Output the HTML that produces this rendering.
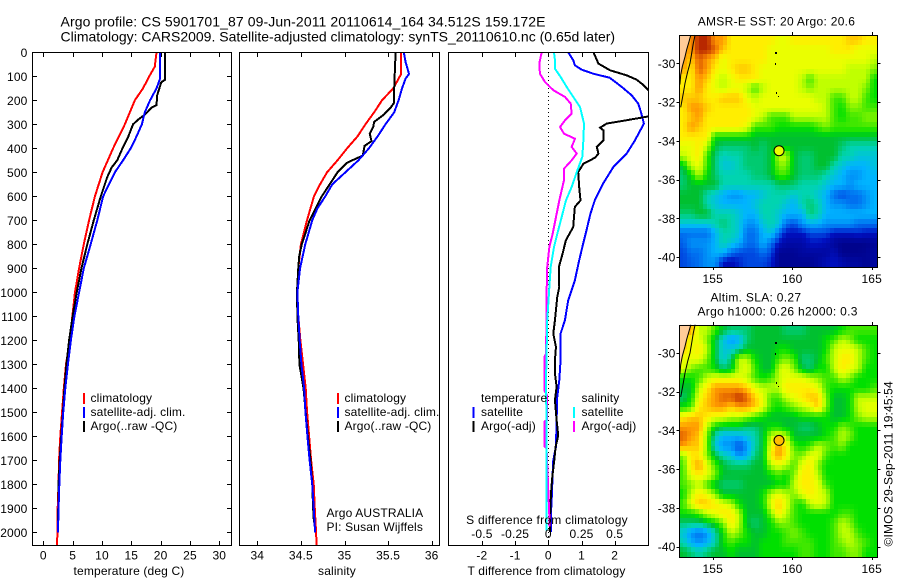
<!DOCTYPE html>
<html lang="en">
<head>
<meta charset="utf-8">
<title>Argo profile</title>
<style>
html,body{margin:0;padding:0;background:#fff;}
svg{display:block;font-family:"Liberation Sans",sans-serif;font-size:12px;fill:#000;letter-spacing:0.15px;}
text{fill:#000;}
</style>
</head>
<body>
<svg id="chart" xmlns="http://www.w3.org/2000/svg" width="900" height="580" viewBox="0 0 900 580">
  <defs>
    <clipPath id="clip1"><rect x="32" y="52" width="200" height="494"/></clipPath>
    <clipPath id="clip2"><rect x="239" y="52" width="201" height="494"/></clipPath>
    <clipPath id="clip3"><rect x="448" y="52" width="201" height="494"/></clipPath>
  </defs>
  <rect x="0" y="0" width="900" height="580" fill="#fff"/>
  <text x="60.5" y="26.5" font-size="14" style="letter-spacing:0.1px">Argo profile: CS 5901701_87 09-Jun-2011 20110614_164 34.512S 159.172E</text>
  <text x="60.5" y="41.5" font-size="14" style="letter-spacing:0">Climatology: CARS2009. Satellite-adjusted climatology: synTS_20110610.nc (0.65d later)</text>

  <g id="map1"></g>
  <g id="map2"></g>
  <g id="panel1"></g>
  <g id="panel2"></g>
  <g id="panel3"></g>

  <text x="129" y="575" text-anchor="middle">temperature (deg C)</text>
  <text x="337" y="575" text-anchor="middle">salinity</text>
  <text x="546.5" y="575" text-anchor="middle">T difference from climatology</text>
  <text x="547" y="524" text-anchor="middle" style="letter-spacing:0.25px">S difference from climatology</text>

  <g>
    <rect x="83" y="393" width="2" height="11" fill="#f00"/>
    <rect x="83" y="407" width="2" height="11" fill="#00f"/>
    <rect x="83" y="421" width="2" height="11" fill="#000"/>
    <text x="90.5" y="402">climatology</text>
    <text x="90.5" y="416">satellite-adj. clim.</text>
    <text x="90.5" y="430">Argo(..raw -QC)</text>
  </g>
  <g>
    <rect x="337" y="393" width="2" height="11" fill="#f00"/>
    <rect x="337" y="407" width="2" height="11" fill="#00f"/>
    <rect x="337" y="421" width="2" height="11" fill="#000"/>
    <text x="344.5" y="402">climatology</text>
    <text x="344.5" y="416">satellite-adj. clim.</text>
    <text x="344.5" y="430">Argo(..raw -QC)</text>
  </g>
  <g>
    <text x="481" y="402">temperature</text>
    <rect x="472.5" y="407" width="2" height="11" fill="#00f"/>
    <rect x="472.5" y="421" width="2" height="11" fill="#000"/>
    <text x="481" y="416">satellite</text>
    <text x="481" y="430">Argo(-adj)</text>
    <text x="581.5" y="402">salinity</text>
    <rect x="573" y="407" width="2" height="11" fill="#0ff"/>
    <rect x="573" y="421" width="2" height="11" fill="#f0f"/>
    <text x="581.5" y="416">satellite</text>
    <text x="581.5" y="430">Argo(-adj)</text>
  </g>

  <text x="326.5" y="517">Argo AUSTRALIA</text>
  <text x="326.5" y="531">PI: Susan Wijffels</text>

  <text x="776.5" y="25.5" text-anchor="middle" style="letter-spacing:0.3px">AMSR-E SST: 20 Argo: 20.6</text>
  <text x="710.5" y="301.5" style="letter-spacing:0.3px">Altim. SLA: 0.27</text>
  <text x="697.5" y="315.5" style="letter-spacing:0.3px">Argo h1000: 0.26 h2000: 0.3</text>
  <text transform="translate(892.5 546.5) rotate(-90)">©IMOS 29-Sep-2011 19:45:54</text>
</svg>

<script>
/* ---------- profile data (pressure in dbar, temperature deg C, salinity) ---------- */
const tempClimDepth = [0,60,100,150,200,300,400,500,600,700,800,900,1000,1100,1200,1300,1400,1500,1600,1700,1800,1900,2000,2054];
const tempClimValue = [19.3,19.0,18.06,17,15.6,13.9,11.9,10.1,8.8,7.8,6.9,6.1,5.4,4.95,4.55,3.87,3.5,3.2,2.9,2.68,2.6,2.45,2.4,2.35];
const tempSatDepth = [0,110,150,200,250,300,350,400,450,500,550,600,700,800,900,1000,1100,1200,1300,1400,1500,1600,1700,1800,1900,2000];
const tempSatValue = [19.9,19.9,19.3,18.2,17.3,16.8,15.9,14.9,13.6,12.2,11.2,10.2,9.2,8.07,6.9,6.1,5.3,4.7,4.2,3.75,3.4,3.13,2.9,2.73,2.6,2.5];
const tempArgoDepth = [0,115,125,180,220,230,260,280,300,350,400,450,480,520,600,650,700,800,900,1000,1100,1200,1300,1400,1500,1600,1700,1800,1900,1970];
const tempArgoValue = [20.7,20.7,20.1,19.4,19.3,18.5,17.3,16.2,15.3,14.5,13.5,12.6,11.65,10.9,9.8,9.2,8.6,7.5,6.5,5.7,5.0,4.4,3.95,3.6,3.35,3.05,2.8,2.6,2.55,2.5];

const salClimDepth = [0,90,110,150,200,250,300,350,400,450,500,550,600,650,700,800,900,1000,1100,1200,1300,1400,1500,1600,1700,1800,1900,2000,2054];
const salClimValue = [35.65,35.65,35.62,35.56,35.43,35.34,35.24,35.15,35.03,34.92,34.80,34.72,34.65,34.61,34.57,34.50,34.47,34.46,34.47,34.494,34.525,34.555,34.571,34.594,34.617,34.647,34.659,34.674,34.68];
const salSatDepth = [0,40,90,110,150,200,250,300,350,400,450,500,550,600,650,700,800,900,1000,1100,1200,1300,1400,1500,1600,1700,1800,1900,2000];
const salSatValue = [35.68,35.70,35.74,35.70,35.66,35.62,35.57,35.47,35.38,35.28,35.16,35.01,34.86,34.78,34.69,34.63,34.55,34.49,34.46,34.47,34.486,34.506,34.537,34.552,34.575,34.60,34.63,34.647,34.663];
const salArgoDepth = [0,100,150,210,230,260,290,310,340,370,390,430,460,500,550,600,650,700,800,850,900,1000,1100,1200,1300,1400,1500,1600,1700,1800,1900,1960];
const salArgoValue = [35.586,35.575,35.57,35.57,35.53,35.45,35.34,35.33,35.29,35.31,35.23,35.21,35.03,34.92,34.83,34.74,34.67,34.60,34.51,34.48,34.47,34.455,34.46,34.475,34.483,34.53,34.555,34.58,34.61,34.63,34.64,34.65];

const dTSatDepth = [0,33,54,72,89,106,144,179,214,249,297,367,422,478,547,617,672,742,797,867,950,1033,1117,1172,1283,1367,1436,1533,1644,1700,1756,1839,1922,1999];
const dTSatValue = [0.60,0.75,0.80,1.0,1.35,1.85,2.21,2.51,2.71,2.79,2.88,2.61,2.36,1.96,1.65,1.40,1.27,1.15,1.05,0.93,0.80,0.60,0.50,0.37,0.37,0.33,0.27,0.25,0.23,0.15,0.13,0.11,0.08,0.08];
const dTArgoDepth = [0,47,75,96,114,137,158,214,267,283,297,314,325,367,394,422,439,464,499,561,617,644,728,783,839,894,978,1019,1117,1172,1228,1283,1339,1394,1450,1533,1596,1644,1700,1770,1839,1950,1999];
const dTArgoValue = [1.36,1.51,1.86,2.36,2.66,2.87,3.02,3.6,3.02,2.36,1.76,1.56,1.66,1.66,1.46,1.51,1.41,1.06,0.90,0.93,0.97,0.80,0.75,0.53,0.43,0.32,0.33,0.27,0.20,0.15,0.23,0.20,0.20,0.25,0.20,0.25,0.30,0.22,0.18,0.12,0.08,0.05,0.05];
const dSSatDepth = [0,33,68,103,144,186,228,297,367,436,492,561,617,686,756,811,894,978,1117,1256,1395,1534,1673,1811,1950,1992];
const dSSatValue = [0.043,0.050,0.050,0.093,0.138,0.188,0.239,0.269,0.264,0.256,0.219,0.176,0.133,0.101,0.068,0.043,0.018,0.008,-0.008,-0.013,-0.018,-0.013,-0.015,-0.015,-0.013,-0.013];
const dSArgoDepth = [0,47,89,124,158,186,214,256,283,311,339,360,394,422,450,485,533,617,672,756,811,894,1006,1117,1256,1270,1409,1430,1530,1540,1640,1650,1935,1975];
const dSArgoValue = [-0.05,-0.068,-0.063,-0.025,0.038,0.126,0.169,0.176,0.126,0.088,0.118,0.201,0.176,0.214,0.176,0.118,0.118,0.083,0.063,0.033,0.008,-0.008,-0.013,-0.013,-0.018,-0.03,-0.03,-0.008,-0.008,-0.03,-0.03,-0.013,0.008,0.008];

/* ---------- tick labels ---------- */
const depthTicks = [0,100,200,300,400,500,600,700,800,900,1000,1100,1200,1300,1400,1500,1600,1700,1800,1900,2000];
const tempTicks = [0,5,10,15,20,25,30];
const salTicks = [34,34.5,35,35.5,36];
const dTTicks = [-2,-1,0,1,2];
const dSTicks = [-0.5,-0.25,0,0.25,0.5];
const lonTicks = [155,160,165];
const latTicks = [-30,-32,-34,-36,-38,-40];

/* ---------- geography ---------- */
const profileLon = 159.172;
const profileLat = -34.512;
const coastEastLon = [153.89,153.78,153.68,153.57,153.43,153.26,153.15,152.99];
const coastEastLat = [-28.54,-28.97,-29.48,-30.0,-30.43,-31.03,-31.55,-32.27];
const coastWestLon = [153.62,153.51,153.36,153.26,153.09,152.99,152.94];
const coastWestLat = [-28.54,-28.88,-29.31,-29.66,-30.17,-30.6,-31.1];
const islandLon = [159.0,159.0,159.03,159.2];
const islandLat = [-29.48,-30.04,-31.55,-31.76];

/* ---------- heatmap cells on a 0..10 colour scale (north to south, west to east) ---------- */
const sstGrid = [
[9,9,10,10,9,9,8,8,8,8,8,8,7.5,7.5,8,8,8,8,8,8,8,8.5,8.5,8,8],
[9,9,10,10,9.5,8.5,8,8,8,8,8,7.5,7.5,7.5,7.5,7.5,7.5,7.5,7.5,8,8,8,7.5,7.5,7.5],
[9,8.5,9.5,9,8.5,7.5,8,8,8,8,8,7.5,7.5,7.5,7.5,7.5,7.5,7.5,7.5,7.5,7.5,7.5,7.5,7.5,7],
[9,8,9.5,9,8,7.5,8,8.5,8.5,8,7.5,7.5,7.5,7.5,7.5,7.5,7.5,7.5,7.5,7.5,7.5,7,7,7,6.5],
[8,8,9,8.5,7.5,7,7.5,8,8,8,7.5,7.5,7.5,7.5,7.5,7,6,7,7,7,7,7,7,7,5.5],
[8,8,9,8,7.5,7,7.5,7.5,7,6,7,7.5,7.5,7.5,7.5,7,6.5,7,7,7,7,7,7,6.5,5.5],
[8.5,8.5,8.5,8,8,8.5,8.5,8.5,7.5,7,7.5,7.5,7.5,7.5,7.5,7.5,7.5,7,7,6,6,7,7,6,5.5],
[8,9,9,8.5,8,8,8,8,8,7.5,7.5,7.5,7.5,7.5,7.5,7.5,7.5,7.5,7,6,5.5,6.5,6.5,6,6],
[8,8.5,9,8,8,8,8,8,8,7.5,7,6,6,6,7,7,7,7,7,6,5.5,6,6,6.5,6.5],
[8,9,8.5,8,8,8,8,8,7.5,6,6,6,5.5,5.5,5.5,5.5,5.5,6,6.5,6,6,6,6,6,6],
[8,8,8,8,5.5,5.5,5.5,5.5,5.5,5,5,5,5,5,5,5,5,5,5,5,5,5,5,5,5],
[7.5,7.5,8,7,5,4.5,4.5,4.5,4.5,5,4.5,5,5,5,5,5,5,5,5,5,4.5,4,4,4,4],
[7,7.5,8,6,4.5,3.8,4,4,4.5,4.5,4.5,5,7,7,5,4.5,4.5,5,5,5,4,4,3.5,3.5,3.5],
[5,7,7.5,6,4.5,3.5,3.5,4,4.5,4.5,4.5,5,6.5,6.5,5,4.5,4.5,5,5,4,3.5,3,3,3,3.5],
[4.5,5.5,7,5.5,4.5,4,4,4,4,4.5,4.5,5,6,6,5,4.5,4.5,4.5,4,3.5,3,2.5,2.5,3,3],
[4.5,5,5,5,5,4,4,4,4,4,4,4,4.5,4.5,4.5,4,4,4,3.5,3,3,2.5,3,3,3],
[5,5,5,4,3.5,3,2.5,2.5,3,3,3.5,4,4,4,3.5,4,4,3.5,3,2,1.5,2,2,2.5,3],
[5,5,5,4,3.5,3,3,3,3,3.5,4,4,4,3.5,3,4,4.5,4,3,2.5,2.5,2,2,2.5,3],
[4.5,4.5,5,5,4,4,4,3.5,3,3,4,4,3.5,3,3,3,4.5,4,3,3,3,3,3,3,3],
[3.5,3.5,3.5,3.5,4,4.5,4,3.5,2.5,2.5,3.5,4,3.5,2,1.5,2.5,3,3,2.5,2.5,2.5,2.5,2,2,2],
[2,2,2,2,3,4,4,3.5,2,2,3,3.5,2,1,1,1,1.5,1.5,1.5,1,1,1,1.2,1,1],
[1.8,2.5,2.5,2.5,3,4,3.5,3,2,2,3,2,1,0.6,0.6,0.6,1,1,0.8,0.4,0.2,0.2,0.2,0.2,0.4],
[1.5,2,2,2.5,3,3,2,1.5,1.5,1.5,2,1.5,0.3,0.3,0.3,0.5,0.5,0.5,0.5,0.8,0.2,0.2,0.2,0.3,0.5],
[1.5,1.8,2,2.5,2.5,1,0.8,1.2,1.5,1.5,1.5,1.2,0.3,0.3,0.3,0.3,0.3,0.5,0.8,1,0.7,0.5,0.5,0.3,0.5]
];
const slaGrid = [
[9,9,7,7,6,5,4.5,4.5,4.5,5,5,5,5,4.5,4.5,4.5,5,5,5,5,5.5,6,6,6,6],
[9,7.5,7.5,6.5,5,3.5,2.5,3,4.5,5,5,5,5,5,5,5,5,5,5.5,6,7,6.5,5.5,5.5,5.5],
[8.5,7.5,8,7,5,3.5,3.5,4,5,5,5,5,5.5,5.5,5,5,5,5,5.5,7,7.5,7.5,7,6,5.5],
[7.5,7.5,7.5,6.5,5,3.5,4.5,7,7,5.5,5,5,6,6.5,6,4.5,4.5,5,6,7,8,8,7,6,5.5],
[7.5,6.5,6,6,5.5,4.5,5,7,7.5,6,5,5,7,7.5,6.5,5,4.5,5.5,5.5,7,8,7.5,7,5.5,5.5],
[5.5,5.5,6,7,7.5,7.5,7.5,7.5,7,6,5.5,6,7,7.5,7.5,7.5,7,6.5,6,6,7,6.5,5.5,5.5,5.5],
[5,5,7,8,9,9,9,9,8.5,7.5,7,7,7,8,8,8,8,7.5,6,5.5,5.5,5.5,5.5,5.5,6],
[4.5,5.5,7.5,8.5,9,9.5,9.5,10,9.5,8.5,7.5,6,6,7,7.5,8,8.5,8.5,6.5,5,5,5.5,7,7,7],
[5.5,6,8,8.5,9,9,8.5,9,9,8.5,7.5,6,5.5,6,6.5,7,7.5,8.5,6.5,5,5,5.5,7,7.5,7.5],
[8,8.5,8.5,8,7.5,7.5,7,7,6.5,6,5.5,5,5,5,5,5.5,5.5,5.5,5.5,5,5,5.5,6.5,7,7],
[9,9,9,7,5.5,5,5,5,4.5,4.5,5,5.5,5.5,5,5,4.5,4.5,5,5.5,5.5,6.5,6,5.5,5.5,5.5],
[9.5,9,8.5,6.5,4,3,3,3,3.5,4,5,7,7.5,7,5,5,5,5,5.5,6,7,6.5,5.5,5.5,5.5],
[9,8.5,8.5,6.5,3.5,2.5,2.5,1.5,2.5,4,5,7.5,9,8,6,5.5,6,7,6.5,6,6.5,5.5,5.5,5.5,5.5],
[6.5,8,8,6.5,5,4,3.5,2.5,3,4.5,5,8,9,8,6.5,6.5,7.5,7.5,6,5.5,5.5,5.5,5.5,5.5,5.5],
[6,8,9,7.5,6,5,4.5,4.5,4.5,5,5,7,7.5,7,6,7.5,8,6.5,5.5,5.5,5.5,5.5,5.5,5.5,5.5],
[6,7.5,8,7.5,6.5,5,5,5,5,5,5,5.5,6,5.5,6.5,8,8,7,5.5,5.5,5.5,5.5,5.5,5.5,5.5],
[6,6.5,7,6,5,4.5,4.5,4.5,5,5,5,5,5.5,5.5,7,8,8,7.5,6,5.5,5.5,5.5,5.5,5.5,5.5],
[5.5,7,8,7.5,6.5,5,5,5,5,5,5.5,7,7.5,7,6.5,7.5,8,7.5,7,5.5,5.5,5.5,5.5,5.5,5.5],
[6,7.5,8.5,8.5,8,7.5,7,5.5,5,5,5.5,7.5,8.5,7.5,6,5.5,7,7.5,7,5.5,5.5,5.5,5.5,5.5,5.5],
[5.5,5.5,6,7,7.5,8,8,7,5,5,5,6.5,8,7,6,5.5,5.5,5.5,5.5,5.5,6,6,5.5,5.5,5.5],
[4.5,4.5,4.5,5,5.5,6.5,8,7,5,4.5,5,5.5,6.5,6.5,6,5.5,5.5,5.5,5.5,6,7,6.5,5.5,5.5,5.5],
[3.5,2.5,2,2.5,4,5.5,7,6.5,5.5,5,5,5.5,5.5,6,6.5,6,5.5,5.5,5.5,6,7,7,6,5.5,5.5],
[4,3,2.5,3,4,5.5,6,5.5,5.5,5,5.5,5.5,5.5,6,6,6,6,5.5,5.5,6,6.5,7,6.5,6,5.5],
[5,4.5,4,4.5,5,5,5.5,5,5,5,5.5,5.5,5.5,5.5,5.5,6,6,5.5,5.5,6,6,6.5,6.5,5.5,5.5]
];
const sstProfileValue = 7.5;
const slaProfileValue = 8.6;

/* ---------- colour scale ---------- */
const colourLevels = [0,1,1.5,2,3,4,5,5.5,6,7,7.5,8,8.5,9,9.5,10];
const colourRGB = [[0,0,128],[0,16,192],[0,72,224],[0,112,240],[0,180,255],[0,212,176],[0,192,48],[0,224,0],[64,232,0],[192,255,0],[234,255,0],[255,238,0],[255,200,0],[255,152,0],[224,96,0],[184,40,0]];
function colourFor(v){
  let k = 0;
  while (k < colourLevels.length - 2 && v > colourLevels[k + 1]) k++;
  const t = Math.max(0, Math.min(1, (v - colourLevels[k]) / (colourLevels[k + 1] - colourLevels[k])));
  const a = colourRGB[k], b = colourRGB[k + 1];
  return 'rgb(' + [0,1,2].map(function(i){ return Math.round(a[i] + (b[i] - a[i]) * t); }).join(',') + ')';
}

/* ---------- helpers and axis functions ---------- */
const NS = 'http://www.w3.org/2000/svg';
function make(parent, tag, attrs){
  const el = document.createElementNS(NS, tag);
  for (const k in attrs) el.setAttribute(k, attrs[k]);
  parent.appendChild(el);
  return el;
}
const yDepth = function(d){ return 52.3 + d * 0.24; };
const xTemp = function(t){ return 43.3 + t * 5.867; };
const xSal = function(s){ return 257.3 + (s - 34) * 87.2; };
const xDT = function(t){ return 548.3 + t * 33.2; };
const xDS = function(s){ return 548.3 + s * 132.8; };

function drawFrame(g, x, w, name){
  const r = make(g, 'rect', {x:x, y:52.5, width:w, height:493, fill:'none', stroke:'#000', 'stroke-width':1, 'shape-rendering':'crispEdges'});
  
  
}
function drawTopBottomTicks(g, ticks, scale, name){
  ticks.forEach(function(t){
    const x = Math.round(scale(t)) + 0.5;
    const a = make(g, 'line', {x1:x, x2:x, y1:52.5, y2:57, stroke:'#000', 'shape-rendering':'crispEdges'});
    
    
    const b = make(g, 'line', {x1:x, x2:x, y1:541, y2:545.5, stroke:'#000', 'shape-rendering':'crispEdges'});
    
    
  });
}
function drawTickLabels(g, ticks, scale, y, name){
  ticks.forEach(function(t){
    const l = make(g, 'text', {x:scale(t), y:y, 'text-anchor':'middle'});
    l.textContent = String(t);
    
    
  });
}
function drawProfile(g, depths, values, xScale, colour, clip, name){
  const pts = depths.map(function(d, i){ return xScale(values[i]).toFixed(2) + ',' + yDepth(d).toFixed(2); }).join(' ');
  const p = make(g, 'polyline', {points:pts, fill:'none', stroke:colour, 'stroke-width':2, 'clip-path':'url(#' + clip + ')', 'shape-rendering':'crispEdges'});
  
  
}

/* ---------- panel 1: temperature ---------- */
const p1 = document.getElementById('panel1');
drawProfile(p1, tempClimDepth, tempClimValue, xTemp, '#f00', 'clip1', 'temperature-climatology-line');
drawProfile(p1, tempArgoDepth, tempArgoValue, xTemp, '#000', 'clip1', 'temperature-argo-line');
drawProfile(p1, tempSatDepth, tempSatValue, xTemp, '#00f', 'clip1', 'temperature-satellite-line');
drawFrame(p1, 32.5, 199, 'temperature-axes-frame');
drawTopBottomTicks(p1, tempTicks, xTemp, 'temperature');
drawTickLabels(p1, tempTicks, xTemp, 559.5, 'temperature');
depthTicks.forEach(function(d){
  const y = Math.round(yDepth(d)) + 0.5;
  const a = make(p1, 'line', {x1:32.5, x2:37, y1:y, y2:y, stroke:'#000', 'shape-rendering':'crispEdges'});
  
  
  const b = make(p1, 'line', {x1:227, x2:231.5, y1:y, y2:y, stroke:'#000', 'shape-rendering':'crispEdges'});
  
  
  const l = make(p1, 'text', {x:27.5, y:yDepth(d) + 4.5, 'text-anchor':'end'});
  l.textContent = String(d);
  
  
});

/* ---------- panel 2: salinity ---------- */
const p2 = document.getElementById('panel2');
drawProfile(p2, salClimDepth, salClimValue, xSal, '#f00', 'clip2', 'salinity-climatology-line');
drawProfile(p2, salArgoDepth, salArgoValue, xSal, '#000', 'clip2', 'salinity-argo-line');
drawProfile(p2, salSatDepth, salSatValue, xSal, '#00f', 'clip2', 'salinity-satellite-line');
drawFrame(p2, 239.5, 200, 'salinity-axes-frame');
drawTopBottomTicks(p2, salTicks, xSal, 'salinity');
drawTickLabels(p2, salTicks, xSal, 559.5, 'salinity');

/* ---------- panel 3: differences ---------- */
const p3 = document.getElementById('panel3');
const zero = make(p3, 'line', {x1:xDT(0), x2:xDT(0), y1:52, y2:545, stroke:'#000', 'stroke-dasharray':'1 3', 'shape-rendering':'crispEdges'});


drawProfile(p3, dTSatDepth, dTSatValue, xDT, '#00f', 'clip3', 't-difference-satellite-line');
drawProfile(p3, dTArgoDepth, dTArgoValue, xDT, '#000', 'clip3', 't-difference-argo-line');
drawProfile(p3, dSArgoDepth, dSArgoValue, xDS, '#f0f', 'clip3', 's-difference-argo-line');
drawProfile(p3, dSSatDepth, dSSatValue, xDS, '#0ff', 'clip3', 's-difference-satellite-line');
drawFrame(p3, 448.5, 200, 'difference-axes-frame');
drawTopBottomTicks(p3, dTTicks, xDT, 't-difference');
drawTickLabels(p3, dTTicks, xDT, 559.5, 't-difference');
drawTickLabels(p3, dSTicks, xDS, 538, 's-difference');

/* ---------- maps ---------- */
function drawMap(gId, grid, top, height, lat30Y, profileValue, prefix){
  const g = document.getElementById(gId);
  const left = 679.5, width = 198;
  const xLon = function(lon){ return 712.7 + (lon - 155) * 15.9; };
  const yLat = function(lat){ return lat30Y + (-30 - lat) * 19.37; };
  const rows = grid.length, cols = grid[0].length;
  const cw = width / cols, ch = height / rows;
  /* each cell is painted as 2x2 blocks blended with its neighbours, like the reference's finer raster */
  for (let i = 0; i < rows; i++) {
    for (let j = 0; j < cols; j++) {
      for (let si = 0; si < 2; si++) {
        for (let sj = 0; sj < 2; sj++) {
          const di = si === 0 ? -1 : 1, dj = sj === 0 ? -1 : 1;
          const ni = Math.max(0, Math.min(rows - 1, i + di));
          const nj = Math.max(0, Math.min(cols - 1, j + dj));
          const v = 0.5625 * grid[i][j] + 0.1875 * grid[ni][j] + 0.1875 * grid[i][nj] + 0.0625 * grid[ni][nj];
          const x0 = Math.round(left + (j + sj / 2) * cw), x1 = Math.round(left + (j + (sj + 1) / 2) * cw);
          const y0 = Math.round(top + (i + si / 2) * ch), y1 = Math.round(top + (i + (si + 1) / 2) * ch);
          const cell = make(g, 'rect', {x:x0, y:y0, width:x1 - x0, height:y1 - y0, fill:colourFor(v), 'shape-rendering':'crispEdges'});
          
          
        }
      }
    }
  }
  /* land */
  const landPts = coastWestLon.map(function(lon, k){ return xLon(lon).toFixed(1) + ',' + yLat(coastWestLat[k]).toFixed(1); });
  landPts.push(left + ',' + yLat(coastWestLat[coastWestLat.length - 1]).toFixed(1));
  landPts.push(left + ',' + top);
  const land = make(g, 'polygon', {points:landPts.join(' '), fill:'#ffcc99'});
  
  
  const coast1 = make(g, 'polyline', {points:coastEastLon.map(function(lon, k){ return xLon(lon).toFixed(1) + ',' + yLat(coastEastLat[k]).toFixed(1); }).join(' '), fill:'none', stroke:'#000', 'stroke-width':1});
  
  
  const coast2 = make(g, 'polyline', {points:coastWestLon.map(function(lon, k){ return xLon(lon).toFixed(1) + ',' + yLat(coastWestLat[k]).toFixed(1); }).join(' '), fill:'none', stroke:'#000', 'stroke-width':1});
  
  
  islandLon.forEach(function(lon, k){
    const isle = make(g, 'rect', {x:Math.round(xLon(lon)) - 1, y:Math.round(yLat(islandLat[k])) - 1, width:k === 0 ? 2 : 1, height:k === 3 ? 1 : 2, fill:'#000', 'shape-rendering':'crispEdges'});
    
    
  });
  const marker = make(g, 'circle', {cx:xLon(profileLon), cy:yLat(profileLat), r:5, fill:colourFor(profileValue), stroke:'#000', 'stroke-width':1});
  
  
  const frame = make(g, 'rect', {x:left, y:top + 0.5, width:width, height:height, fill:'none', stroke:'#000', 'shape-rendering':'crispEdges'});
  
  
  lonTicks.forEach(function(lon){
    const x = Math.round(xLon(lon)) + 0.5;
    const a = make(g, 'line', {x1:x, x2:x, y1:top - 3, y2:top, stroke:'#000', 'shape-rendering':'crispEdges'});
    
    
    const b = make(g, 'line', {x1:x, x2:x, y1:top + height, y2:top + height + 3, stroke:'#000', 'shape-rendering':'crispEdges'});
    
    
    const l = make(g, 'text', {x:xLon(lon), y:top + height + 16, 'text-anchor':'middle'});
    l.textContent = String(lon);
    
    
  });
  latTicks.forEach(function(lat){
    const y = Math.round(yLat(lat)) + 0.5;
    const a = make(g, 'line', {x1:left - 3, x2:left, y1:y, y2:y, stroke:'#000', 'shape-rendering':'crispEdges'});
    
    
    const b = make(g, 'line', {x1:left + width, x2:left + width + 3, y1:y, y2:y, stroke:'#000', 'shape-rendering':'crispEdges'});
    
    
    const l = make(g, 'text', {x:675.5, y:yLat(lat) + 4.5, 'text-anchor':'end'});
    l.textContent = String(lat);
    
    
  });
}
drawMap('map1', sstGrid, 35, 232, 63.3, sstProfileValue, 'sst');
drawMap('map2', slaGrid, 325, 232, 353, slaProfileValue, 'sla');
</script>
</body>
</html>
